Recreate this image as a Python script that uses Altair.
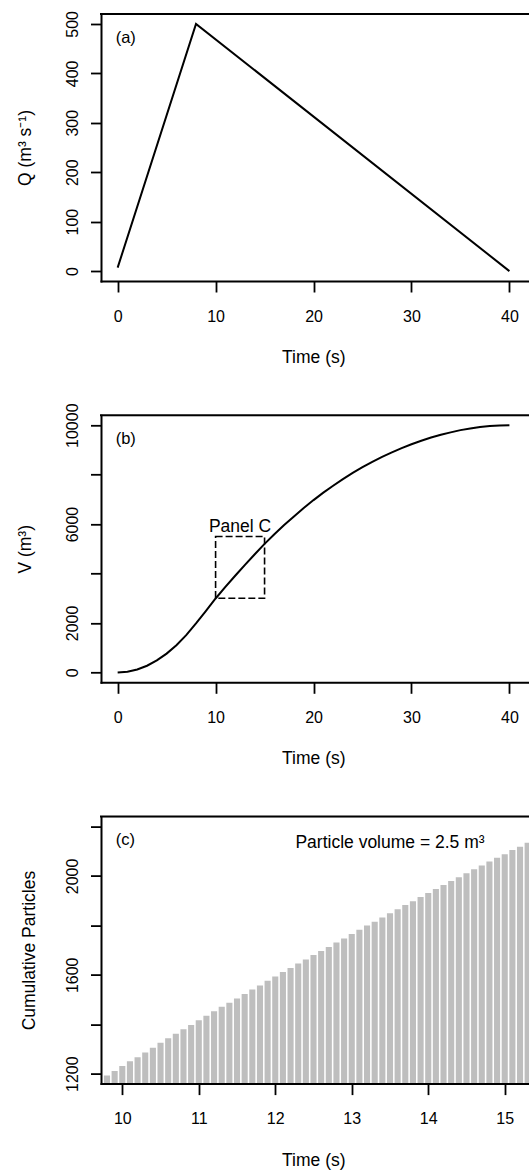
import altair as alt
import pandas as pd

FONT = "Liberation Sans"
W = 428
H = 267

# ---- Panel (a): discharge hydrograph ----
q_time = [0, 8, 40]
q_vals = [7, 500, 0]

# ---- Panel (b): cumulative volume ----
v_time = [0, 1, 2, 3, 4, 5, 6, 7, 8, 9, 10, 11, 12, 13, 14, 15, 16, 17, 18, 19, 20,
          21, 22, 23, 24, 25, 26, 27, 28, 29, 30, 31, 32, 33, 34, 35, 36, 37, 38, 39, 40]
v_vals = [0, 30, 120, 270, 485, 760, 1100, 1510, 1980, 2480, 2990, 3460, 3910, 4350,
          4780, 5200, 5590, 5960, 6310, 6650, 6970, 7270, 7550, 7820, 8070, 8300, 8520,
          8720, 8900, 9070, 9230, 9370, 9500, 9610, 9710, 9800, 9870, 9930, 9970, 9990, 10000]
box_time = [10, 15]
box_vol = [3000, 5500]

# ---- Panel (c): cumulative particles ----
c_time = [9.8, 9.9, 10.0, 10.1, 10.2, 10.3, 10.4, 10.5, 10.6, 10.7, 10.8, 10.9,
          11.0, 11.1, 11.2, 11.3, 11.4, 11.5, 11.6, 11.7, 11.8, 11.9,
          12.0, 12.1, 12.2, 12.3, 12.4, 12.5, 12.6, 12.7, 12.8, 12.9,
          13.0, 13.1, 13.2, 13.3, 13.4, 13.5, 13.6, 13.7, 13.8, 13.9,
          14.0, 14.1, 14.2, 14.3, 14.4, 14.5, 14.6, 14.7, 14.8, 14.9,
          15.0, 15.1, 15.2, 15.3]
c_vals = [1193, 1211, 1231, 1250, 1267, 1286, 1305, 1325, 1343, 1362, 1380, 1397,
          1416, 1434, 1453, 1471, 1487, 1504, 1522, 1541, 1557, 1576,
          1593, 1611, 1628, 1646, 1662, 1680, 1696, 1713, 1731, 1747,
          1765, 1782, 1799, 1815, 1832, 1849, 1865, 1882, 1898, 1915,
          1931, 1947, 1963, 1980, 1995, 2011, 2027, 2042, 2058, 2074,
          2088, 2105, 2118, 2134]

x_ticks_ab = [0, 10, 20, 30, 40]
x_ticks_c = [10, 11, 12, 13, 14, 15]
y_ticks_a = [0, 100, 200, 300, 400, 500]
y_ticks_b = [0, 2000, 4000, 6000, 8000, 10000]
y_ticks_c = [1200, 1400, 1600, 1800, 2000, 2200]

panel_labels = ["(a)", "(b)", "(c)"]
x_title = "Time (s)"
y_titles = ["Q (m³ s⁻¹)", "V (m³)", "Cumulative Particles"]
note_b = "Panel C"
note_c = "Particle volume = 2.5 m³"


def x_axis(values):
    return alt.Axis(values=values, format="d", title=x_title, grid=False,
                    domainColor="black", domainWidth=2, domainCap="square",
                    tickColor="black", tickWidth=1.8, tickSize=11,
                    labelFontSize=16, labelPadding=29, labelBaseline="alphabetic",
                    labelColor="black", labelFont=FONT, labelFlush=False, labelOverlap=False,
                    titleFontSize=17.5, titleFontWeight="normal", titleColor="black",
                    titleFont=FONT, titleX=212.3, titleY=81.5, titleAlign="center",
                    titleBaseline="alphabetic", zindex=1)


def y_axis(values, title, title_x, label_expr=None):
    kw = dict(values=values, format="d", title=title, grid=False,
              domainColor="black", domainWidth=2, domainCap="square",
              tickColor="black", tickWidth=1.8, tickSize=10.5,
              labelAngle=270, labelAlign="center", labelBaseline="alphabetic",
              labelPadding=13, labelFontSize=16, labelColor="black", labelFont=FONT,
              labelFlush=False, labelOverlap=False,
              titleFontSize=17.5, titleFontWeight="normal", titleColor="black",
              titleFont=FONT, titleAngle=270, titleX=title_x, titleY=H / 2,
              titleAlign="center", titleBaseline="alphabetic", zindex=1)
    if label_expr:
        kw["labelExpr"] = label_expr
    return alt.Axis(**kw)


def top_border():
    return alt.Chart(pd.DataFrame({"k": [0]})).mark_rule(
        color="black", strokeWidth=2, strokeCap="square"
    ).encode(x=alt.value(0), x2=alt.value(W), y=alt.value(0))


def panel_tag(i):
    return alt.Chart(pd.DataFrame({"label": [panel_labels[i]]})).mark_text(
        align="left", baseline="alphabetic", fontSize=16.5, font=FONT, color="black"
    ).encode(x=alt.value(14.7), y=alt.value(28.7), text="label:N")


# Panel (a)
xs_ab = alt.Scale(domain=[-1.7, 42.0], nice=False, zero=False)
df_q = pd.DataFrame({"t": q_time, "q": q_vals})
line_a = alt.Chart(df_q).mark_line(color="black", strokeWidth=2, clip=True).encode(
    x=alt.X("t:Q", scale=xs_ab, axis=x_axis(x_ticks_ab)),
    y=alt.Y("q:Q", scale=alt.Scale(domain=[-20, 520], nice=False, zero=False),
            axis=y_axis(y_ticks_a, y_titles[0], -71)),
)
panel_a = alt.layer(line_a, top_border(), panel_tag(0)).properties(width=W, height=H)

# Panel (b)
df_v = pd.DataFrame({"t": v_time, "v": v_vals})
ys_b = alt.Scale(domain=[-400, 10400], nice=False, zero=False)
line_b = alt.Chart(df_v).mark_line(color="black", strokeWidth=2, clip=True).encode(
    x=alt.X("t:Q", scale=xs_ab, axis=x_axis(x_ticks_ab)),
    y=alt.Y("v:Q", scale=ys_b,
            axis=y_axis(y_ticks_b, y_titles[1], -71,
                        "datum.value == 4000 || datum.value == 8000 ? '' : datum.label")),
)
df_box = pd.DataFrame({"x0": [box_time[0]], "x1": [box_time[1]],
                       "y0": [box_vol[0]], "y1": [box_vol[1]]})
box_b = alt.Chart(df_box).mark_rect(
    fillOpacity=0, stroke="black", strokeWidth=1.6, strokeDash=[7, 3]
).encode(x="x0:Q", x2="x1:Q", y="y0:Q", y2="y1:Q")
text_b = alt.Chart(pd.DataFrame({"label": [note_b]})).mark_text(
    align="center", baseline="alphabetic", fontSize=17.5, font=FONT, color="black", dy=-4
).encode(x=alt.datum(12.5), y=alt.datum(5500), text="label:N")
panel_b = alt.layer(line_b, box_b, text_b, top_border(), panel_tag(1)).properties(width=W, height=H)

# Panel (c)
df_c = pd.DataFrame({"t": c_time, "n": c_vals})
bars_c = alt.Chart(df_c).mark_bar(color="#BEBEBE", size=6.1, clip=True).encode(
    x=alt.X("t:Q", scale=alt.Scale(domain=[9.787, 15.252], nice=False, zero=False),
            axis=x_axis(x_ticks_c)),
    y=alt.Y("n:Q", scale=alt.Scale(domain=[1160, 2240], nice=False, zero=False),
            axis=y_axis(y_ticks_c, y_titles[2], -67,
                        "datum.value == 1200 || datum.value == 1600 || datum.value == 2000 ? datum.label : ''")),
    y2=alt.value(H),
)
text_c = alt.Chart(pd.DataFrame({"label": [note_c]})).mark_text(
    align="center", baseline="alphabetic", fontSize=17.5, font=FONT, color="black"
).encode(x=alt.datum(13.5), y=alt.datum(2112), text="label:N")
panel_c = alt.layer(bars_c, text_c, top_border(), panel_tag(2)).properties(width=W, height=H)

chart = alt.vconcat(panel_a, panel_b, panel_c, spacing=134.3, bounds="flush").properties(
    autosize=alt.AutoSizeParams(type="none"),
    padding={"left": 101, "top": 14, "right": 0, "bottom": 1157},
).configure_view(stroke="transparent").configure(background="white")

chart.save("out.html", embed_options={"renderer": "svg", "actions": False})
